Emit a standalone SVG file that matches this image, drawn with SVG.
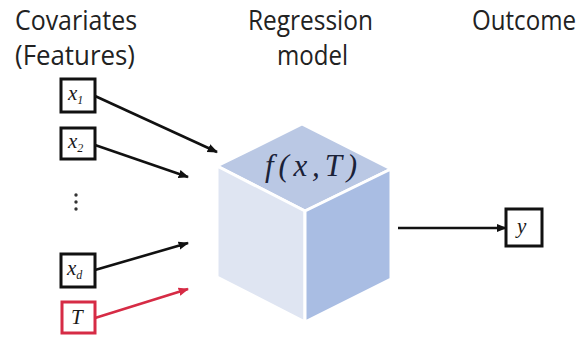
<svg xmlns="http://www.w3.org/2000/svg" width="587" height="354" viewBox="0 0 587 354">
<defs>
<marker id="ah" viewBox="0 0 10 10" refX="9" refY="5" markerWidth="4" markerHeight="4" orient="auto" markerUnits="strokeWidth"><path d="M0,1 L10,5 L0,9 z" fill="#111"/></marker>
<marker id="ahr" viewBox="0 0 10 10" refX="9" refY="5" markerWidth="4" markerHeight="4" orient="auto" markerUnits="strokeWidth"><path d="M0,1 L10,5 L0,9 z" fill="#d62b45"/></marker>
</defs>
<style>
.title{font-family:"Open Sans","Liberation Sans",sans-serif;font-size:27px;fill:#222;}
.box{fill:#fff;stroke:#111;stroke-width:3;}
.rbox{fill:#fff;stroke:#d62b45;stroke-width:3;}
.var{font-family:"Liberation Serif",serif;font-style:italic;font-size:21px;fill:#1a1a1a;}
.sub{font-size:12px;}
.ln{stroke:#111;stroke-width:2.6;fill:none;marker-end:url(#ah);}
.lnr{stroke:#d62b45;stroke-width:2.6;fill:none;marker-end:url(#ahr);}
.face{stroke:#fff;stroke-width:3;stroke-linejoin:round;}
</style>
<rect width="587" height="354" fill="#fff"/>
<g id="titles">
<text class="title" x="15" y="30" textLength="122" lengthAdjust="spacingAndGlyphs">Covariates</text>
<text class="title" x="15" y="65" textLength="120" lengthAdjust="spacingAndGlyphs">(Features)</text>
<text class="title" x="248" y="30" textLength="125" lengthAdjust="spacingAndGlyphs">Regression</text>
<text class="title" x="277" y="65" textLength="71" lengthAdjust="spacingAndGlyphs">model</text>
<text class="title" x="472" y="30" font-size="25" textLength="104" lengthAdjust="spacingAndGlyphs">Outcome</text>
</g>
<g id="connectors">
<line class="ln" x1="95" y1="96" x2="217" y2="152"/>
<line class="ln" x1="95" y1="145" x2="188" y2="177"/>
<line class="ln" x1="95" y1="270" x2="188" y2="243"/>
<line class="lnr" x1="95" y1="318" x2="188" y2="289"/>
<line class="ln" x1="398" y1="228" x2="506" y2="228"/>
</g>
<g id="model">
<polygon class="face" points="302,124 391,169 305,211 217,166" fill="#bac8e4"/>
<polygon class="face" points="217,166 305,211 305,322 217,277" fill="#dfe5f2"/>
<polygon class="face" points="305,211 391,169 391,279 305,322" fill="#a9bde3"/>
<text x="265" y="176" font-family="Liberation Serif,serif" font-style="italic" font-size="31" fill="#1a2238" textLength="92" lengthAdjust="spacing">f(x,T)</text>
</g>
<g id="x1">
<rect class="box" x="61" y="79" width="34" height="33"/>
<text class="var" x="68" y="100">x<tspan class="sub" dy="4">1</tspan></text>
</g>
<g id="x2">
<rect class="box" x="61" y="128" width="34" height="31"/>
<text class="var" x="68" y="148">x<tspan class="sub" dy="4">2</tspan></text>
</g>
<g id="dots" fill="#333">
<circle cx="76" cy="195" r="1.7"/>
<circle cx="76" cy="202" r="1.7"/>
<circle cx="76" cy="209" r="1.7"/>
</g>
<g id="xd">
<rect class="box" x="61" y="254" width="34" height="33"/>
<text class="var" x="67" y="275">x<tspan class="sub" dy="4">d</tspan></text>
</g>
<g id="T">
<rect class="rbox" x="62" y="302" width="33" height="31"/>
<text class="var" x="71" y="324">T</text>
</g>
<g id="y">
<rect class="box" x="506" y="209" width="36" height="37"/>
<text class="var" x="517" y="233">y</text>
</g>
</svg>
